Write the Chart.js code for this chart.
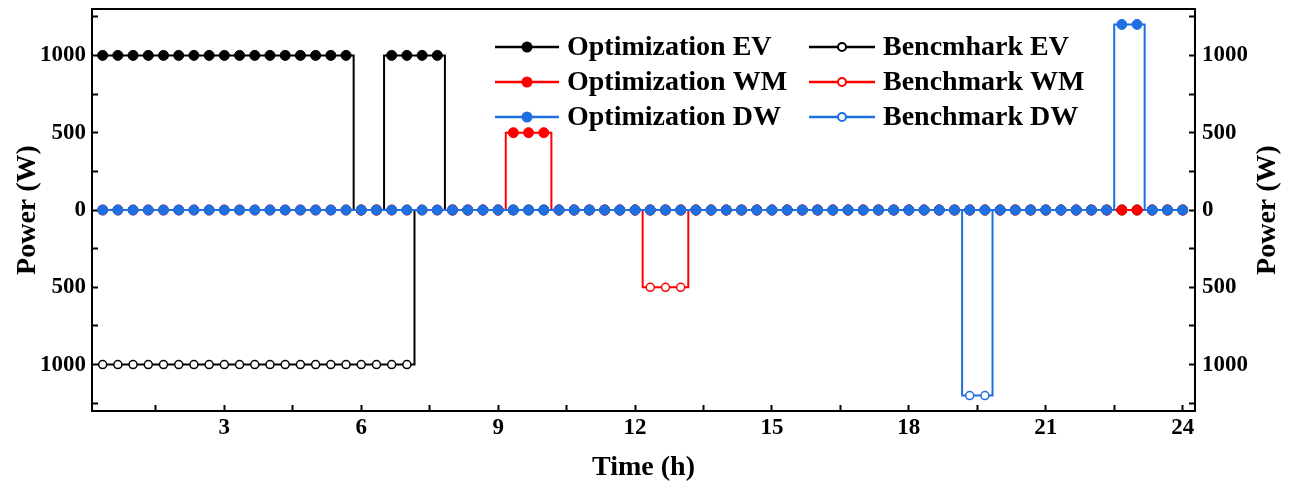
<!DOCTYPE html>
<html>
<head>
<meta charset="utf-8">
<title>Power schedule</title>
<script src="https://cdn.jsdelivr.net/npm/chart.js@4.4.1/dist/chart.umd.min.js"></script>
<style>
  body { margin: 0; background: #fff; }
  #wrap { width: 1295px; height: 488px; }
</style>
</head>
<body>
<div id="wrap"><canvas id="chart"></canvas></div>
<script>
// 20-minute slots, end of slot in minutes
const timeMin = [
  20, 40, 60, 80, 100, 120, 140, 160, 180, 200, 220, 240,
  260, 280, 300, 320, 340, 360, 380, 400, 420, 440, 460, 480,
  500, 520, 540, 560, 580, 600, 620, 640, 660, 680, 700, 720,
  740, 760, 780, 800, 820, 840, 860, 880, 900, 920, 940, 960,
  980, 1000, 1020, 1040, 1060, 1080, 1100, 1120, 1140, 1160, 1180, 1200,
  1220, 1240, 1260, 1280, 1300, 1320, 1340, 1360, 1380, 1400, 1420, 1440
];

// power (W) per slot
const optEV = [
  1000, 1000, 1000, 1000, 1000, 1000, 1000, 1000, 1000, 1000, 1000, 1000,
  1000, 1000, 1000, 1000, 1000, 0, 0, 1000, 1000, 1000, 1000, 0,
  0, 0, 0, 0, 0, 0, 0, 0, 0, 0, 0, 0,
  0, 0, 0, 0, 0, 0, 0, 0, 0, 0, 0, 0,
  0, 0, 0, 0, 0, 0, 0, 0, 0, 0, 0, 0,
  0, 0, 0, 0, 0, 0, 0, 0, 0, 0, 0, 0
];
const benchEV = [
  -1000, -1000, -1000, -1000, -1000, -1000, -1000, -1000, -1000, -1000, -1000, -1000,
  -1000, -1000, -1000, -1000, -1000, -1000, -1000, -1000, -1000, 0, 0, 0,
  0, 0, 0, 0, 0, 0, 0, 0, 0, 0, 0, 0,
  0, 0, 0, 0, 0, 0, 0, 0, 0, 0, 0, 0,
  0, 0, 0, 0, 0, 0, 0, 0, 0, 0, 0, 0,
  0, 0, 0, 0, 0, 0, 0, 0, 0, 0, 0, 0
];
const optWM = [
  0, 0, 0, 0, 0, 0, 0, 0, 0, 0, 0, 0,
  0, 0, 0, 0, 0, 0, 0, 0, 0, 0, 0, 0,
  0, 0, 0, 500, 500, 500, 0, 0, 0, 0, 0, 0,
  0, 0, 0, 0, 0, 0, 0, 0, 0, 0, 0, 0,
  0, 0, 0, 0, 0, 0, 0, 0, 0, 0, 0, 0,
  0, 0, 0, 0, 0, 0, 0, 0, 0, 0, 0, 0
];
const benchWM = [
  0, 0, 0, 0, 0, 0, 0, 0, 0, 0, 0, 0,
  0, 0, 0, 0, 0, 0, 0, 0, 0, 0, 0, 0,
  0, 0, 0, 0, 0, 0, 0, 0, 0, 0, 0, 0,
  -500, -500, -500, 0, 0, 0, 0, 0, 0, 0, 0, 0,
  0, 0, 0, 0, 0, 0, 0, 0, 0, 0, 0, 0,
  0, 0, 0, 0, 0, 0, 0, 0, 0, 0, 0, 0
];
const optDW = [
  0, 0, 0, 0, 0, 0, 0, 0, 0, 0, 0, 0,
  0, 0, 0, 0, 0, 0, 0, 0, 0, 0, 0, 0,
  0, 0, 0, 0, 0, 0, 0, 0, 0, 0, 0, 0,
  0, 0, 0, 0, 0, 0, 0, 0, 0, 0, 0, 0,
  0, 0, 0, 0, 0, 0, 0, 0, 0, 0, 0, 0,
  0, 0, 0, 0, 0, 0, 0, 1200, 1200, 0, 0, 0
];
const benchDW = [
  0, 0, 0, 0, 0, 0, 0, 0, 0, 0, 0, 0,
  0, 0, 0, 0, 0, 0, 0, 0, 0, 0, 0, 0,
  0, 0, 0, 0, 0, 0, 0, 0, 0, 0, 0, 0,
  0, 0, 0, 0, 0, 0, 0, 0, 0, 0, 0, 0,
  0, 0, 0, 0, 0, 0, 0, 0, 0, -1200, -1200, 0,
  0, 0, 0, 0, 0, 0, 0, 0, 0, 0, 0, 0
];

// axis ticks (labels only on the major ones)
const xTicks = [1.5, 3, 4.5, 6, 7.5, 9, 10.5, 12, 13.5, 15, 16.5, 18, 19.5, 21, 22.5, 24];
const yTicks = [-1250, -1000, -750, -500, -250, 0, 250, 500, 750, 1000, 1250];

const FONT = '"Liberation Serif", "Times New Roman", serif';
const BLACK = '#000000';
const RED = '#ff0000';
const BLUE = '#1f6fe0';

function makeSet(label, values, color, filled, order) {
  return {
    label: label,
    data: values.map((v, i) => ({ x: timeMin[i] / 60, y: v })),
    borderColor: color,
    backgroundColor: filled ? color : '#ffffff',
    borderWidth: 2,
    stepped: 'middle',
    pointRadius: filled ? 5 : 4,
    pointBorderWidth: filled ? 1 : 1.5,
    pointBackgroundColor: filled ? color : '#ffffff',
    pointBorderColor: color,
    order: order,
    yAxisID: 'y'
  };
}

// lower order is drawn on top
const datasets = [
  makeSet('Optimization EV', optEV, BLACK, true, 2),
  makeSet('Bencmhark EV', benchEV, BLACK, false, 5),
  makeSet('Optimization WM', optWM, RED, true, 1),
  makeSet('Benchmark WM', benchWM, RED, false, 4),
  makeSet('Optimization DW', optDW, BLUE, true, 0),
  makeSet('Benchmark DW', benchDW, BLUE, false, 3)
];

const tickFont = { family: FONT, size: 23, weight: 'bold' };
const titleFont = { family: FONT, size: 28, weight: 'bold' };

const grid = {
  display: true,
  drawOnChartArea: false,
  drawTicks: true,
  tickLength: -6,
  tickWidth: 2,
  tickColor: BLACK
};
const border = { display: true, color: BLACK, width: 2 };

// fixed box sizes, no extra room for half labels at the ends
function fixBox(s, size) {
  if (s.isHorizontal()) s.height = size; else s.width = size;
  s.paddingTop = 0;
  s.paddingBottom = 0;
  s.paddingLeft = 0;
  s.paddingRight = 0;
}

function yAxis(position, width, pad) {
  return {
    type: 'linear',
    position: position,
    min: -1300,
    max: 1300,
    afterBuildTicks: s => { s.ticks = yTicks.map(v => ({ value: v })); },
    afterFit: s => fixBox(s, width),
    ticks: {
      callback: v => (v % 500 === 0 ? Math.abs(v) : ''),
      font: tickFont,
      color: BLACK,
      padding: pad,
      autoSkip: false
    },
    grid: grid,
    border: border,
    title: position === 'left'
      ? { display: true, text: 'Power (W)', font: titleFont, color: BLACK, padding: { top: 11, bottom: 0 } }
      : { display: false }
  };
}

// top frame line, right axis title and the two-column legend
const extras = {
  id: 'extras',
  afterDraw(chart) {
    const ctx = chart.ctx;
    const a = chart.chartArea;
    ctx.save();
    ctx.strokeStyle = BLACK;
    ctx.lineWidth = 2;
    ctx.beginPath();
    ctx.moveTo(a.left - 1, a.top);
    ctx.lineTo(a.right + 1, a.top);
    ctx.stroke();

    ctx.save();
    ctx.translate(1268, (a.top + a.bottom) / 2);
    ctx.rotate(-Math.PI / 2);
    ctx.font = 'bold 28px ' + FONT;
    ctx.fillStyle = BLACK;
    ctx.textAlign = 'center';
    ctx.textBaseline = 'middle';
    ctx.fillText('Power (W)', 0, 0);
    ctx.restore();

    const cols = [{ x0: 495, x1: 559, tx: 567 }, { x0: 809, x1: 875, tx: 883 }];
    const rows = [47, 82, 117];
    chart.data.datasets.forEach((ds, i) => {
      const c = cols[i % 2];
      const y = rows[Math.floor(i / 2)];
      const filled = ds.pointBackgroundColor !== '#ffffff';
      ctx.strokeStyle = ds.borderColor;
      ctx.lineWidth = 2.5;
      ctx.beginPath();
      ctx.moveTo(c.x0, y);
      ctx.lineTo(c.x1, y);
      ctx.stroke();
      ctx.beginPath();
      ctx.arc((c.x0 + c.x1) / 2, y, filled ? 4.5 : 4, 0, Math.PI * 2);
      ctx.fillStyle = filled ? ds.borderColor : '#ffffff';
      ctx.fill();
      ctx.lineWidth = 2;
      ctx.stroke();
      ctx.fillStyle = BLACK;
      ctx.font = 'bold 28px ' + FONT;
      ctx.textAlign = 'left';
      ctx.textBaseline = 'middle';
      ctx.fillText(ds.label, c.tx, y + 1);
    });
    ctx.restore();
  }
};

new Chart(document.getElementById('chart'), {
  type: 'line',
  data: { datasets: datasets },
  options: {
    responsive: true,
    maintainAspectRatio: false,
    animation: false,
    layout: { padding: { top: 9, right: 0, bottom: 0, left: 0 } },
    plugins: {
      legend: { display: false },
      tooltip: { enabled: false }
    },
    scales: {
      x: {
        type: 'linear',
        min: 0.1,
        max: 24.27,
        afterBuildTicks: s => { s.ticks = xTicks.map(v => ({ value: v })); },
        afterFit: s => fixBox(s, 77),
        ticks: {
          callback: v => (v % 3 === 0 ? v : ''),
          font: tickFont,
          color: BLACK,
          padding: 9,
          maxRotation: 0,
          autoSkip: false
        },
        grid: grid,
        border: border,
        title: { display: true, text: 'Time (h)', font: titleFont, color: BLACK, padding: { top: 0, bottom: 3 } }
      },
      y: yAxis('left', 92, 12),
      y2: yAxis('right', 100, 13)
    }
  },
  plugins: [extras]
});
</script>
</body>
</html>
